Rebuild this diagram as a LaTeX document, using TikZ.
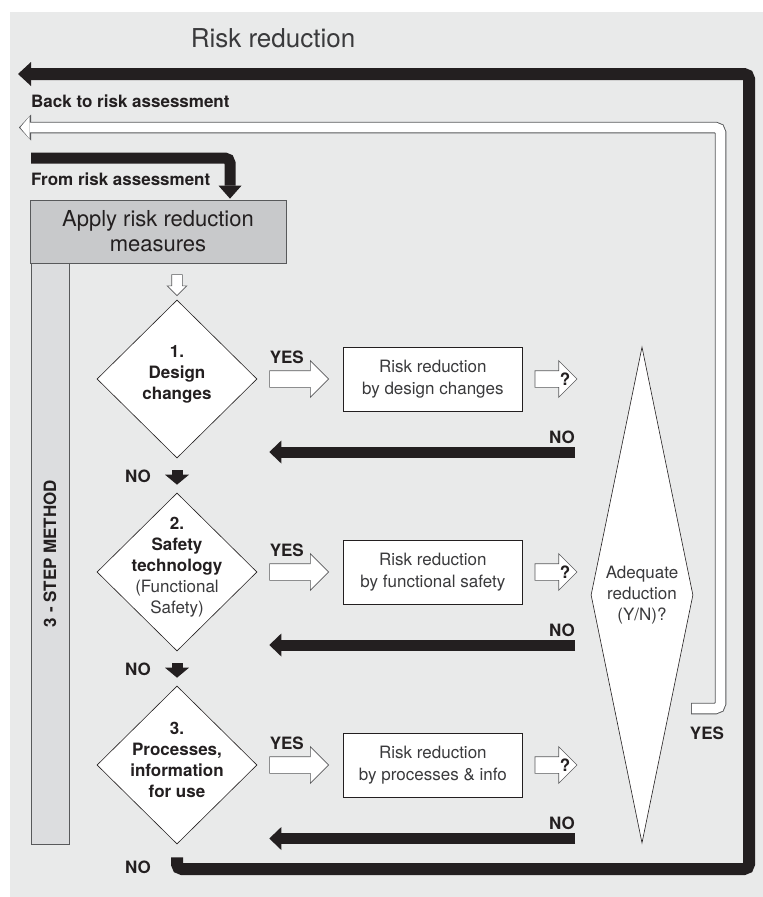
\documentclass[tikz,border=0pt]{standalone}
\usepackage{fontspec}
\setmainfont{TeX Gyre Heros}
\usetikzlibrary{arrows.meta, shapes.geometric, shapes.arrows, positioning}

\definecolor{bggrey}{HTML}{E9EAEA}
\definecolor{boxgrey}{HTML}{C8C9CB}
\definecolor{bargrey}{HTML}{DCDDDF}
\definecolor{edgegrey}{HTML}{58595B}
\definecolor{ink}{HTML}{231F20}
\definecolor{softink}{HTML}{3A3A3C}

\tikzset{
  lbl/.style={font=\bfseries\fontsize{17}{20}\selectfont, text=ink, inner sep=0pt},
  steptext/.style={font=\fontsize{17}{21}\selectfont, text=ink, align=center, inner sep=0pt},
  stepdiam/.style={diamond, draw=ink, fill=white, line width=0.6pt, minimum width=160pt, minimum height=158pt, inner sep=0pt},
  resbox/.style={draw=ink, fill=white, line width=0.7pt, minimum width=179pt, minimum height=64pt, inner sep=0pt, align=center, font=\fontsize{17}{22}\selectfont, text=softink},
  hollowarrow/.style={single arrow, draw=edgegrey, fill=white, line width=0.6pt, inner xsep=0pt, inner ysep=8pt, single arrow head extend=10pt},
  fatback/.style={draw=ink, line width=11pt, -{Triangle[length=12pt, width=23pt, line width=0pt]}},
  fatdown/.style={draw=ink, line width=11pt, -{Triangle[length=10pt, width=24pt, line width=0pt]}},
}

\begin{document}
\begin{tikzpicture}[x=1pt, y=-1pt]

  \useasboundingbox (0,0) rectangle (763,897);
  \fill[bggrey] (10,12) rectangle (763,897);

  \node[font=\fontsize{26}{30}\selectfont, text=softink] (title) at (273,38) {Risk reduction};
  \node[lbl, anchor=base west] (backtxt) at (31,107) {Back to risk assessment};
  \node[lbl, anchor=base west] (fromtxt) at (31,185) {From risk assessment};

  % Apply box and the 3 step bar
  \node[draw=edgegrey, fill=boxgrey, line width=0.7pt, minimum width=256pt, minimum height=63pt, align=center,
        font=\fontsize{22}{25}\selectfont, text=ink] (apply) at (158,231.5) {Apply risk reduction\\measures};
  \node[draw=edgegrey, fill=bargrey, line width=0.7pt, minimum width=581pt, minimum height=38pt, inner sep=0pt,
        font=\bfseries\fontsize{17}{20}\selectfont, text=ink, rotate=90] (bar) at (50,553.5) {3 - STEP METHOD};
  \node[hollowarrow, shape border rotate=270, inner sep=5pt, minimum height=21pt,
        single arrow head extend=4.5pt] (inarrow) at (177,282.5) {};

  \coordinate (fromstart) at (31,158);
  \draw[draw=ink, line width=11pt, rounded corners=5pt, -{Triangle[length=13pt, width=23pt, line width=0pt]}]
    (fromstart) -| ([xshift=72pt, yshift=1pt]apply.north);

  % The three steps
  \node[stepdiam, label={[steptext, yshift=5pt]center:{\textbf{1.}\\\textbf{Design}\\\textbf{changes}}}] (d1) at (177,379) {};
  \node[stepdiam, label={[steptext, yshift=5pt]center:{\textbf{2.}\\\textbf{Safety}\\\textbf{technology}\\\textcolor{softink}{(Functional}\\\textcolor{softink}{Safety)}}}] (d2) at (177,572) {};
  \node[stepdiam, label={[steptext, yshift=5pt]center:{\textbf{3.}\\\textbf{Processes,}\\\textbf{information}\\\textbf{for use}}}] (d3) at (177,765) {};

  \node[hollowarrow, minimum height=59pt, right=12pt of d1] (ya1) {};
  \node[hollowarrow, minimum height=59pt, right=12pt of d2] (ya2) {};
  \node[hollowarrow, minimum height=59pt, right=12pt of d3] (ya3) {};

  \node[resbox, right=14pt of ya1] (rb1) {Risk reduction\\by design changes};
  \node[resbox, right=14pt of ya2] (rb2) {Risk reduction\\by functional safety};
  \node[resbox, right=14pt of ya3] (rb3) {Risk reduction\\by processes \& info};

  \node[hollowarrow, minimum height=42pt, right=12pt of rb1] (qa1) {};
  \node[hollowarrow, minimum height=42pt, right=12pt of rb2] (qa2) {};
  \node[hollowarrow, minimum height=42pt, right=12pt of rb3] (qa3) {};
  \node[lbl] (q1) at ([xshift=-12.5pt]qa1.tip) {?};
  \node[lbl] (q2) at ([xshift=-12.5pt]qa2.tip) {?};
  \node[lbl] (q3) at ([xshift=-12.5pt]qa3.tip) {?};

  \node[lbl, anchor=base] (yes1) at ([xshift=29.5pt, yshift=16pt]d1.east) {YES};
  \node[lbl, anchor=base] (yes2) at ([xshift=29.5pt, yshift=16pt]d2.east) {YES};
  \node[lbl, anchor=base] (yes3) at ([xshift=29.5pt, yshift=16pt]d3.east) {YES};

  % NO: down to next step
  \draw[fatdown] ([yshift=-12pt]d1.south) -- ([yshift=8pt]d2.north);
  \draw[fatdown] ([yshift=-12pt]d2.south) -- ([yshift=8pt]d3.north);
  \node[lbl, anchor=base] (nod1) at (138,482) {NO};
  \node[lbl, anchor=base] (nod2) at (138,675) {NO};
  \node[lbl, anchor=base] (nod3) at (138,873) {NO};

  % Adequate reduction
  \node[diamond, draw=ink, fill=white, line width=0.6pt, minimum width=102pt, minimum height=496pt, inner sep=0pt,
        label={[font=\fontsize{17}{21}\selectfont, text=softink, align=center]center:{Adequate\\reduction\\(Y/N)?}}] (adq) at (642,595) {};

  % NO: back to the steps
  \coordinate (nr1) at (575,452);
  \coordinate (nr2) at (575,645);
  \coordinate (nr3) at (575,838.5);
  \draw[fatback] (nr1) -- (nr1 -| ya1.west);
  \draw[fatback] (nr2) -- (nr2 -| ya2.west);
  \draw[fatback] (nr3) -- (nr3 -| ya3.west);
  \node[lbl, anchor=base east] (nor1) at ([yshift=9pt]nr1) {NO};
  \node[lbl, anchor=base east] (nor2) at ([yshift=9pt]nr2) {NO};
  \node[lbl, anchor=base east] (nor3) at ([yshift=9pt]nr3) {NO};

  % Loops back to risk assessment
  \coordinate (outR) at (749,869);
  \coordinate (backtip) at (18,74);
  \draw[draw=ink, line width=12pt, rounded corners=5pt, -{Triangle[length=13pt, width=24pt, line width=0pt]}]
    ([yshift=-13pt]d3.south) |- (outR) |- (backtip);

  \coordinate (yesend) at (691,708.5);
  \coordinate (yescorner) at (720.5,127.5);
  \coordinate (backtip2) at (19,127.5);
  \draw[draw=edgegrey, line width=11.5pt, rounded corners=5pt, -{Triangle[length=12pt, width=26pt, line width=0pt]}]
    (yesend) -| (yescorner) -- (backtip2);
  \draw[draw=white, line width=9.6pt, rounded corners=5pt, shorten <=0.9pt, shorten >=1.3pt,
        -{Triangle[length=9.4pt, width=22.5pt, line width=0pt]}]
    (yesend) -| (yescorner) -- (backtip2);
  \node[lbl, anchor=base] (yesR) at (707,739) {YES};

\end{tikzpicture}
\end{document}
